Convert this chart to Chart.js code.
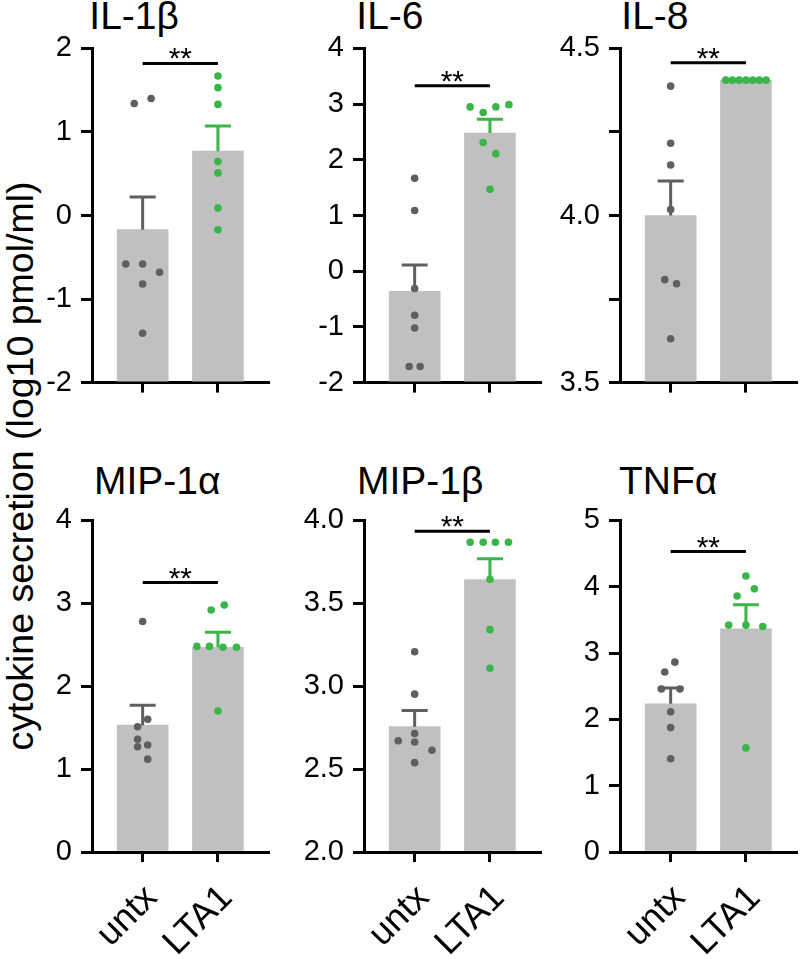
<!DOCTYPE html>
<html lang="en">
<head>
<meta charset="UTF-8">
<title>Cytokine secretion</title>
<script src="https://cdn.jsdelivr.net/npm/chart.js"></script>
<style>
    body { margin: 0; background: #fff; }
    #wrap {
        position: relative;
        width: 800px;
        height: 959px;
        overflow: hidden;
        font-family: 'Liberation Sans', Arial, sans-serif;
        color: #000;
    }
    canvas { position: absolute; }
    .title {
        position: absolute;
        font-size: 39px;
        line-height: 1;
        white-space: nowrap;
    }
    #ylabel {
        position: absolute;
        left: 20.5px;
        top: 466px;
        font-size: 37.5px;
        line-height: 1;
        white-space: nowrap;
        transform: translate(-50%, -50%) rotate(-90deg);
    }
</style>
</head>
<body>
<div id="wrap">
    <div id="ylabel">cytokine secretion (log10 pmol/ml)</div>
</div>
<script>
    // values (log10 pmol/ml)
    const groups = ['untx', 'LTA1'];
    const titles = ['IL-1β', 'IL-6', 'IL-8', 'MIP-1α', 'MIP-1β', 'TNFα'];

    const meanUntx = [-0.17, -0.36, 4.00, 1.53, 2.756, 2.236];
    const meanLta1 = [0.77, 2.48, 4.405, 2.47, 3.643, 3.366];
    const semUntx = [0.39, 0.47, 0.103, 0.24, 0.097, 0.237];
    const semLta1 = [0.30, 0.25, 0, 0.18, 0.126, 0.361];

    const pointsUntx = [
        [1.34, 1.40, -0.58, -0.58, -0.68, -0.82, -1.41],
        [1.67, 1.09, -0.31, -0.79, -1.02, -1.71, -1.71],
        [4.387, 4.216, 4.151, 4.018, 3.808, 3.796, 3.631],
        [2.78, 1.60, 1.51, 1.36, 1.29, 1.27, 1.12],
        [3.208, 2.952, 2.715, 2.671, 2.663, 2.614, 2.539],
        [2.863, 2.715, 2.458, 2.458, 2.113, 1.876, 1.407]
    ];
    const pointsLta1 = [
        [1.67, 1.53, 1.33, 0.645, 0.51, 0.09, -0.17],
        [2.95, 2.85, 2.95, 2.99, 2.31, 2.11, 1.47],
        [4.405, 4.405, 4.405, 4.405, 4.405, 4.405, 4.405],
        [2.92, 2.98, 2.48, 2.48, 2.47, 2.47, 1.70],
        [3.868, 3.868, 3.868, 3.868, 3.645, 3.341, 3.108],
        [4.161, 3.968, 3.860, 3.421, 3.421, 3.40, 1.57]
    ];
    // horizontal scatter of the dots, in dot widths
    const jitterUntx = [
        [-1, 1, -2, 0, 2, 0, 0],
        [0, 0, 0, 0, 0, -0.65, 0.65],
        [0, 0, 0, 0, -0.7, 0.7, 0],
        [0, 0.6, -0.6, -0.6, 0.6, -0.6, 0.6],
        [0, 0, 0, -1.95, 0, 2.05, 0],
        [0.5, -0.7, -1.1, 1.1, 0, 0, 0]
    ];
    const jitterLta1 = [
        [0, 0, 0, 0, 0, 0, 0],
        [-2.35, -0.8, 0.7, 2.25, -0.8, 0.7, 0],
        [-2.4, -1.6, -0.8, 0, 0.8, 1.6, 2.4],
        [-0.8, 0.75, -2.5, -1, 0.6, 2.2, 0],
        [-2.35, -0.8, 0.65, 2.2, 0, 0, 0],
        [0, 1, -1.05, -2.05, 0, 2, 0]
    ];

    const sigLevel = [1.82, 3.33, 4.457, 3.25, 3.935, 4.53];
    const sigText = '**';

    const yMin = [-2, -2, 3.5, 0, 2.0, 0];
    const yMax = [2, 4, 4.5, 4, 4.0, 5];
    const yStep = [1, 1, 0.25, 1, 0.5, 1];
    const yDecimals = [0, 0, 1, 0, 1, 0];

    // layout
    const colAxisX = [92, 364, 620];
    const rowTop = [42, 514];
    const rowPlotH = [347, 338];
    const xAxisH = [20, 106];
    const yAxisW = 62, plotW = 180, padTop = 20;
    const xMin = -0.673, xMax = 1.665;
    const dotStep = 0.112;
    const titleLeft = [89.3, 356.3, 621.3, 94, 357, 619];
    const titleTop = [-3.7, 461.2];

    const barGray = '#c0c0c0';
    const dotGray = '#5f5f5f';
    const green = '#39b54a';

    Chart.defaults.font.family = "'Liberation Sans', Arial, sans-serif";
    Chart.defaults.color = '#000';

    const panelExtras = {
        id: 'panelExtras',
        afterDatasetDraw(chart, args, opts) {
            if (args.index !== 3) return;
            const {ctx, scales: {x, y}} = chart;
            ctx.save();
            ctx.lineWidth = 3;
            ctx.lineCap = 'butt';
            opts.means.forEach((m, k) => {
                if (!opts.sems[k]) return;
                const px = x.getPixelForValue(k);
                const y0 = y.getPixelForValue(m);
                const y1 = y.getPixelForValue(m + opts.sems[k]);
                ctx.strokeStyle = opts.colors[k];
                ctx.beginPath();
                ctx.moveTo(px, y0);
                ctx.lineTo(px, y1);
                ctx.moveTo(px - 13, y1);
                ctx.lineTo(px + 13, y1);
                ctx.stroke();
            });
            ctx.restore();
        },
        afterDraw(chart, args, opts) {
            const {ctx, scales: {x, y}} = chart;
            ctx.save();
            ctx.font = "30px 'Liberation Sans', Arial, sans-serif";
            ctx.fillStyle = '#000';
            ctx.textAlign = 'center';
            ctx.textBaseline = 'alphabetic';
            ctx.fillText(opts.text, x.getPixelForValue(0.5), y.getPixelForValue(opts.sig) + 5);
            ctx.restore();
        }
    };

    const wrap = document.getElementById('wrap');

    titles.forEach((name, i) => {
        const col = i % 3, row = Math.floor(i / 3);

        const t = document.createElement('div');
        t.className = 'title';
        t.textContent = name;
        t.style.left = titleLeft[i] + 'px';
        t.style.top = titleTop[row] + 'px';
        wrap.appendChild(t);

        const canvas = document.createElement('canvas');
        const w = yAxisW + plotW;
        const h = padTop + rowPlotH[row] + xAxisH[row];
        canvas.width = w;
        canvas.height = h;
        canvas.style.width = w + 'px';
        canvas.style.height = h + 'px';
        canvas.style.left = (colAxisX[col] - yAxisW) + 'px';
        canvas.style.top = (rowTop[row] - padTop) + 'px';
        wrap.appendChild(canvas);

        const dotsU = pointsUntx[i].map((v, k) => ({x: 0 + jitterUntx[i][k] * dotStep, y: v}));
        const dotsL = pointsLta1[i].map((v, k) => ({x: 1 + jitterLta1[i][k] * dotStep, y: v}));

        new Chart(canvas, {
            type: 'bar',
            data: {
                datasets: [
                    {
                        type: 'scatter',
                        data: dotsU,
                        backgroundColor: dotGray,
                        borderColor: dotGray,
                        borderWidth: 0,
                        pointRadius: 3.8,
                        order: 0
                    },
                    {
                        type: 'scatter',
                        data: dotsL,
                        backgroundColor: green,
                        borderColor: green,
                        borderWidth: 0,
                        pointRadius: 3.8,
                        order: 0
                    },
                    {
                        type: 'line',
                        data: [{x: 0, y: sigLevel[i]}, {x: 1, y: sigLevel[i]}],
                        borderColor: '#000',
                        borderWidth: 3,
                        pointRadius: 0,
                        order: 1
                    },
                    {
                        type: 'bar',
                        data: [{x: 0, y: meanUntx[i]}, {x: 1, y: meanLta1[i]}],
                        base: yMin[i],
                        backgroundColor: barGray,
                        borderWidth: 0,
                        barThickness: 51,
                        order: 2
                    }
                ]
            },
            options: {
                responsive: false,
                animation: false,
                devicePixelRatio: 1,
                events: [],
                layout: {padding: {top: padTop, left: 0, right: 0, bottom: 0}},
                plugins: {
                    legend: {display: false},
                    tooltip: {enabled: false},
                    panelExtras: {
                        means: [meanUntx[i], meanLta1[i]],
                        sems: [semUntx[i], semLta1[i]],
                        colors: [dotGray, green],
                        sig: sigLevel[i],
                        text: sigText
                    }
                },
                scales: {
                    x: {
                        type: 'linear',
                        min: xMin,
                        max: xMax,
                        offset: false,
                        afterBuildTicks: s => { s.ticks = [{value: 0}, {value: 1}]; },
                        afterFit: s => { s.height = xAxisH[row]; },
                        grid: {
                            display: true,
                            drawOnChartArea: false,
                            drawTicks: true,
                            tickLength: 10,
                            color: '#000',
                            lineWidth: 3,
                            offset: false
                        },
                        border: {display: true, color: '#000', width: 3},
                        ticks: {
                            display: row === 1,
                            autoSkip: false,
                            minRotation: 45,
                            maxRotation: 45,
                            padding: 15,
                            labelOffset: 9,
                            font: {size: 36},
                            color: '#000',
                            callback: v => groups[v]
                        }
                    },
                    y: {
                        type: 'linear',
                        min: yMin[i],
                        max: yMax[i],
                        afterFit: s => { s.width = yAxisW; },
                        grid: {
                            display: true,
                            drawOnChartArea: false,
                            drawTicks: true,
                            tickLength: 11,
                            color: '#000',
                            lineWidth: 3
                        },
                        border: {display: true, color: '#000', width: 3},
                        ticks: {
                            stepSize: yStep[i],
                            padding: 9,
                            font: {size: 29},
                            color: '#000',
                            callback: v => {
                                const labelStep = yDecimals[i] ? 0.5 : 1;
                                const r = v / labelStep;
                                if (Math.abs(r - Math.round(r)) > 1e-6) return '';
                                return Number(v).toFixed(yDecimals[i]);
                            }
                        }
                    }
                }
            },
            plugins: [panelExtras]
        });
    });
</script>
</body>
</html>
